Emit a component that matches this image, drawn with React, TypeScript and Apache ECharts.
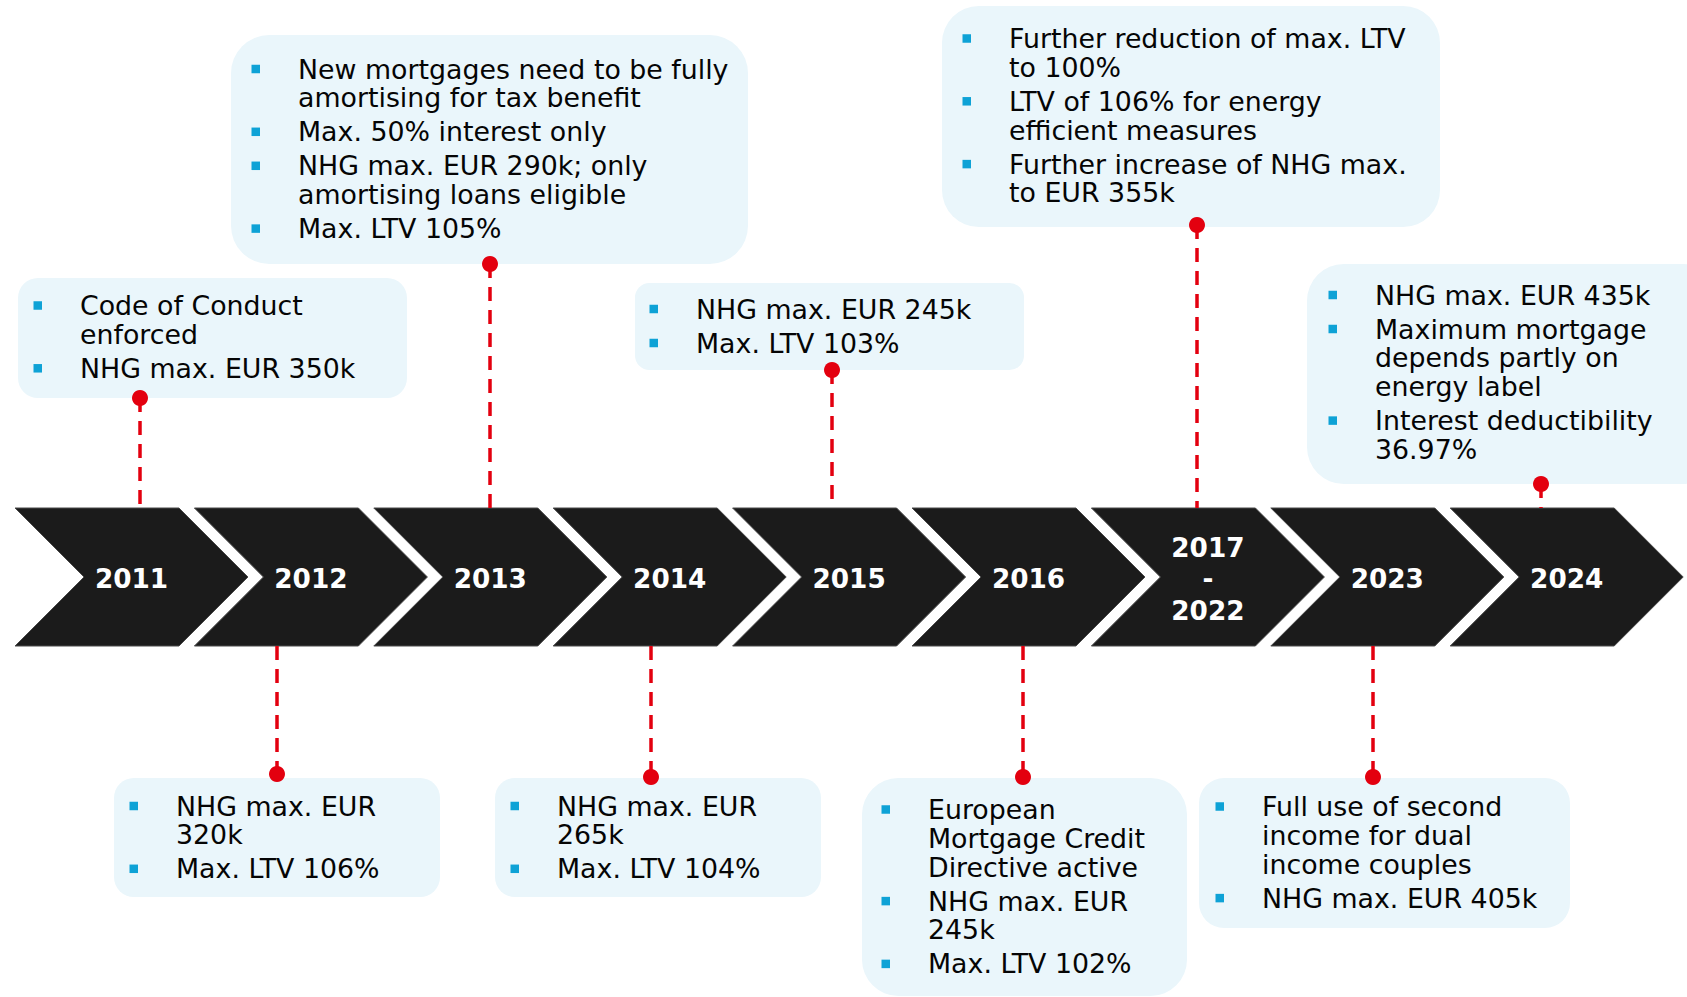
import React, { useEffect, useRef } from 'react';
import * as echarts from 'echarts';

// ---------- data ----------
const years = ['2011', '2012', '2013', '2014', '2015', '2016', '2017\n-\n2022', '2023', '2024'];
const sides = ['top', 'bottom', 'top', 'bottom', 'top', 'bottom', 'top', 'bottom', 'top'];

const notes2011 = [['Code of Conduct', 'enforced'], ['NHG max. EUR 350k']];
const notes2012 = [['NHG max. EUR', '320k'], ['Max. LTV 106%']];
const notes2013 = [
  ['New mortgages need to be fully', 'amortising for tax benefit'],
  ['Max. 50% interest only'],
  ['NHG max. EUR 290k; only', 'amortising loans eligible'],
  ['Max. LTV 105%'],
];
const notes2014 = [['NHG max. EUR', '265k'], ['Max. LTV 104%']];
const notes2015 = [['NHG max. EUR 245k'], ['Max. LTV 103%']];
const notes2016 = [['European', 'Mortgage Credit', 'Directive active'], ['NHG max. EUR', '245k'], ['Max. LTV 102%']];
const notes2017 = [
  ['Further reduction of max. LTV', 'to 100%'],
  ['LTV of 106% for energy', 'efficient measures'],
  ['Further increase of NHG max.', 'to EUR 355k'],
];
const notes2023 = [['Full use of second', 'income for dual', 'income couples'], ['NHG max. EUR 405k']];
const notes2024 = [
  ['NHG max. EUR 435k'],
  ['Maximum mortgage', 'depends partly on', 'energy label'],
  ['Interest deductibility', '36.97%'],
];
const notes = [notes2011, notes2012, notes2013, notes2014, notes2015, notes2016, notes2017, notes2023, notes2024];

// ---------- layout (pixel frame 1687 x 997) ----------
const W = 1687;
const H = 997;
const CHEV_LEFT0 = 15;
const CHEV_STEP = 179.4;
const CHEV_TOP = 508;
const CHEV_BOTTOM = 646;
const CHEV_BODY = 164;
const CHEV_DEPTH = 69;

const boxRects = [
  [18, 278, 407, 398],
  [114, 778, 440, 897],
  [231, 35, 748, 264],
  [495, 778, 821, 897],
  [635, 283, 1024, 370],
  [862, 778, 1187, 996],
  [942, 6, 1440, 227],
  [1199, 778, 1570, 928],
  [1307, 264, 1720, 484],
];
const dotPos = [
  [140, 398],
  [277, 774],
  [490, 264],
  [651, 777],
  [832, 370],
  [1023, 777],
  [1197, 225],
  [1373, 777],
  [1541, 484],
];
const textX = [80, 176, 298, 557, 696, 928, 1009, 1262, 1375];
const firstLineY = [305.5, 806, 69, 806, 309, 809.5, 38.5, 806.5, 295];
const LINE_STEP = 28.8;
const PARA_STEP = 34;

const FONT_FAMILY = 'Verdana, "DejaVu Sans", sans-serif';
const BOX_FILL = '#EAF6FB';
const BULLET = '#0EA2D6';
const RED = '#E3000F';
const CHEV_FILL = '#1B1B1B';

export default function App() {
  const ref = useRef<HTMLDivElement>(null);

  useEffect(() => {
    if (!ref.current) return;
    const chart = echarts.init(ref.current, null, { renderer: 'svg' });

    const chevronRender = (params: any, api: any) => {
      const i = params.dataIndex;
      const L = CHEV_LEFT0 + i * CHEV_STEP;
      const mid = (CHEV_TOP + CHEV_BOTTOM) / 2;
      const pts = [
        [L, CHEV_TOP],
        [L + CHEV_BODY, CHEV_TOP],
        [L + CHEV_BODY + CHEV_DEPTH, mid],
        [L + CHEV_BODY, CHEV_BOTTOM],
        [L, CHEV_BOTTOM],
        [L + CHEV_DEPTH, mid],
      ].map((p) => api.coord(p));
      const cx = L + (CHEV_BODY + CHEV_DEPTH) / 2;
      const lines = years[i].split('\n');
      const step = 31.8;
      const y0 = mid + 2.3 - ((lines.length - 1) * step) / 2;
      const texts = lines.map((t, k) => {
        const c = api.coord([cx, y0 + k * step]);
        return {
          type: 'text',
          style: {
            text: t,
            x: c[0],
            y: c[1],
            fill: '#FFFFFF',
            font: `bold 26.3px ${FONT_FAMILY}`,
            align: 'center',
            verticalAlign: 'middle',
          },
        };
      });
      return {
        type: 'group',
        children: [
          {
            type: 'polygon',
            shape: { points: pts },
            style: { fill: CHEV_FILL, stroke: '#4a4a4a', lineWidth: 1 },
          },
          ...texts,
        ],
      };
    };

    const eventRender = (params: any, api: any) => {
      const i = params.dataIndex;
      const [x0, y0, x1, y1] = boxRects[i];
      const p0 = api.coord([x0, y0]);
      const p1 = api.coord([x1, y1]);
      const w = p1[0] - p0[0];
      const h = p1[1] - p0[1];
      const r = Math.min(w, h) * 0.1667;
      const children: any[] = [];
      children.push({
        type: 'rect',
        shape: { x: p0[0], y: p0[1], width: w, height: h, r },
        style: { fill: BOX_FILL },
      });

      // connector
      const d = dotPos[i];
      const edgeY = sides[i] === 'top' ? CHEV_TOP : CHEV_BOTTOM;
      const a = api.coord(sides[i] === 'top' ? [d[0], d[1]] : [d[0], edgeY]);
      const b = api.coord(sides[i] === 'top' ? [d[0], edgeY] : [d[0], d[1]]);
      children.push({
        type: 'line',
        shape: { x1: a[0], y1: a[1], x2: b[0], y2: b[1] },
        style: { stroke: RED, lineWidth: 3.5, lineDash: [14, 9] },
      });
      const dc = api.coord(d);
      children.push({
        type: 'circle',
        shape: { cx: dc[0], cy: dc[1], r: 8 },
        style: { fill: RED },
      });

      // bullets & text
      let y = firstLineY[i];
      notes[i].forEach((para: string[], pi: number) => {
        if (pi > 0) y += PARA_STEP;
        const bc = api.coord([textX[i] - 46.5, y - 4.25]);
        children.push({
          type: 'rect',
          shape: { x: bc[0], y: bc[1], width: 8.5, height: 8.5 },
          style: { fill: BULLET },
        });
        para.forEach((line: string, li: number) => {
          if (li > 0) y += LINE_STEP;
          const tc = api.coord([textX[i], y]);
          children.push({
            type: 'text',
            style: {
              text: line,
              x: tc[0],
              y: tc[1],
              fill: '#050505',
              font: `26.8px ${FONT_FAMILY}`,
              align: 'left',
              verticalAlign: 'middle',
            },
          });
        });
      });
      return { type: 'group', children };
    };

    chart.setOption({
      animation: false,
      backgroundColor: '#FFFFFF',
      grid: { left: 0, right: 0, top: 0, bottom: 0 },
      xAxis: { type: 'value', min: 0, max: W, show: false },
      yAxis: { type: 'value', min: 0, max: H, inverse: true, show: false },
      series: [
        {
          type: 'custom',
          name: 'years',
          renderItem: chevronRender,
          data: years.map((_, i) => [i, 0]),
          encode: { x: 0, y: 1 },
          silent: true,
          clip: false,
        },
        {
          type: 'custom',
          name: 'events',
          renderItem: eventRender,
          data: years.map((_, i) => [i, 0]),
          encode: { x: 0, y: 1 },
          silent: true,
          clip: false,
          z: 3,
        },
      ],
    });

    return () => {
      chart.dispose();
    };
  }, []);

  return (
    <div
      ref={ref}
      style={{ position: 'fixed', left: 0, top: 0, width: W, height: H, background: '#fff' }}
    />
  );
}
